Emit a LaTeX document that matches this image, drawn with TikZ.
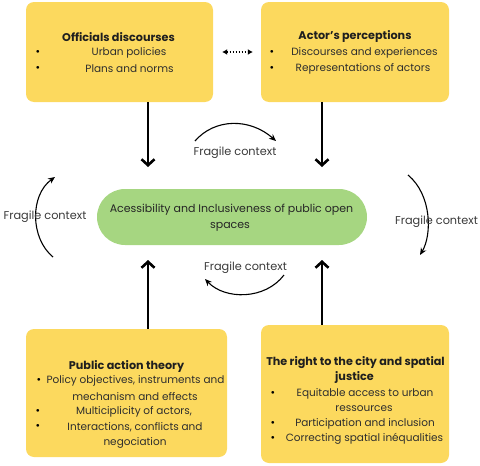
\documentclass[tikz,border=0pt]{standalone}
\usepackage{fontspec}
\setmainfont{Poppins}
\usetikzlibrary{arrows.meta}
\definecolor{boxyellow}{HTML}{FCD95E}
\definecolor{pillgreen}{HTML}{A6D681}
\definecolor{ctxgray}{HTML}{3A3A3A}
\begin{document}
\begin{tikzpicture}[x=1pt,y=-1pt,
  box/.style={fill=boxyellow, rounded corners=8pt, draw=none, inner sep=0pt},
  pill/.style={fill=pillgreen, rounded corners=28pt, draw=none, inner sep=0pt},
  title/.style={font=\bfseries\fontsize{11.2}{12}\selectfont, text=black!88, inner sep=0pt},
  item/.style={font=\fontsize{10.5}{12}\selectfont, text=black!82, inner sep=0pt},
  bul/.style={font=\fontsize{11}{12}\selectfont, text=black, inner sep=0pt},
  ctx/.style={font=\fontsize{11.3}{12}\selectfont, text=ctxgray, inner sep=0pt},
  bigarrow/.style={line width=2.6pt, -{Straight Barb[length=6pt,width=13pt,line width=2.6pt]}},
  thinarrow/.style={line width=1.1pt, -{Stealth[length=7pt,width=6pt]}},
  dotarrow/.style={line width=1.4pt, dash pattern=on 1.4pt off 1.6pt,
    {Latex[length=5pt,width=6pt]}-{Latex[length=5pt,width=6pt]}}]
\useasboundingbox (0,0) rectangle (480,466);

% boxes
\node[box, minimum width=187pt, minimum height=100pt] (tl) at (119.5,52) {};
\node[box, minimum width=188pt, minimum height=100pt] (tr) at (355,52) {};
\node[box, minimum width=201pt, minimum height=128pt] (bl) at (126.5,393) {};
\node[box, minimum width=188pt, minimum height=138pt] (br) at (355,394) {};
\node[pill, minimum width=270pt, minimum height=56pt] (pl) at (232,217) {};

% top-left text
\node[title] (tlt) at (118.5,37) {Officials discourses};
\node[bul] (tlb1) at (38,53) {\textbullet};
\node[item] (tli1) at (129,53) {Urban policies};
\node[bul] (tlb2) at (38,69) {\textbullet};
\node[item] (tli2) at (129.5,69) {Plans and norms};

% top-right text
\node[title] (trt) at (355,37) {Actor's perceptions};
\node[bul] (trb1) at (272,53) {\textbullet};
\node[item] (tri1) at (364.5,53) {Discourses and experiences};
\node[bul] (trb2) at (272,69) {\textbullet};
\node[item] (tri2) at (363,69) {Representations of actors};

% bottom-left text
\node[title] (blt) at (126.5,366) {Public action theory};
\node[bul] (blb1) at (39,381) {\textbullet};
\node[item] (bli1) at (135.5,381) {Policy objectives, instruments and};
\node[item] (bli1b) at (135,397) {mechanism and effects};
\node[bul] (blb2) at (38,412) {\textbullet};
\node[item] (bli2) at (134,412) {Multiciplicity of actors,};
\node[bul] (blb3) at (38,427) {\textbullet};
\node[item] (bli3) at (135,427) {Interactions, conflicts and};
\node[item] (bli3b) at (135,443) {negociation};

% bottom-right text
\node[title] (brt) at (355.5,363) {The right to the city and spatial};
\node[title] (brt2) at (354.5,378) {justice};
\node[bul] (brb1) at (273,394) {\textbullet};
\node[item] (bri1) at (365,394) {Equitable access to urban};
\node[item] (bri1b) at (364,409) {ressources};
\node[bul] (brb2) at (273,424) {\textbullet};
\node[item] (bri2) at (365,424) {Participation and inclusion};
\node[bul] (brb3) at (273,439) {\textbullet};
\node[item] (bri3) at (364.5,439) {Correcting spatial inéqualities};

% pill text
\node[item, font=\fontsize{11}{12}\selectfont, text=black!85] (plt1) at (231.5,210) {Acessibility and Inclusiveness of public open};
\node[item, font=\fontsize{11}{12}\selectfont, text=black!85] (plt2) at (230,227) {spaces};

% vertical arrows
\coordinate (d1) at (148,167);
\coordinate (d2) at (322,167);
\coordinate (u1) at (148,260);
\coordinate (u2) at (322,260);
\draw[bigarrow] (tl.south -| d1) -- (d1);
\draw[bigarrow] (tr.south -| d2) -- (d2);
\draw[bigarrow] (bl.north -| u1) -- (u1);
\draw[bigarrow] (br.north -| u2) -- (u2);

% dotted double arrow
\draw[dotarrow, shorten <=9pt, shorten >=8pt] (tl.east) -- (tr.west);

% curved arrows
\coordinate (c1s) at (195,141); \coordinate (c1e) at (276,141);
\coordinate (c2s) at (284,275); \coordinate (c2e) at (205,279);
\coordinate (c3s) at (53,257);  \coordinate (c3e) at (55,177);
\coordinate (c4s) at (408,175); \coordinate (c4e) at (420,255);
\draw[thinarrow] (c1s) .. controls (215,118) and (250,118) .. (c1e);
\draw[thinarrow] (c2s) .. controls (265,300) and (225,300) .. (c2e);
\draw[thinarrow] (c3s) .. controls (30,238) and (30,195) .. (c3e);
\draw[thinarrow] (c4s) .. controls (432,195) and (432,235) .. (c4e);

% labels
\node[ctx] (f1) at (235,153) {Fragile context};
\node[ctx] (f2) at (45,217) {Fragile context};
\node[ctx] (f3) at (436.5,222) {Fragile context};
\node[ctx] (f4) at (245.5,268) {Fragile context};
\end{tikzpicture}
\end{document}
